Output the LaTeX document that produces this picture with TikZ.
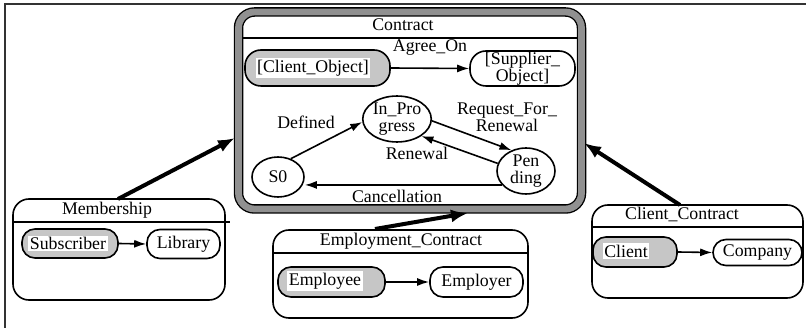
\documentclass[tikz,border=0pt]{standalone}
\usepackage{fontspec}
\setmainfont{Liberation Serif}
\usetikzlibrary{shapes.geometric,arrows.meta,calc}
\begin{document}
\begin{tikzpicture}[x=1pt,y=-1pt,
  txt/.style={font=\fontsize{17.8}{17}\selectfont, inner sep=0pt, align=center},
  box/.style={draw, line width=1.6pt, rounded corners=16pt, inner sep=0pt},
  st/.style={draw, line width=1.6pt, rounded corners=13pt, inner sep=0pt, font=\fontsize{17.8}{16.5}\selectfont, align=center},
  ststart/.style={st, fill=gray!45},
  lab/.style={fill=white, inner sep=1.5pt, font=\fontsize{17.8}{17}\selectfont},
  ell/.style={draw, ellipse, line width=1.6pt, inner sep=0pt, font=\fontsize{17.8}{17}\selectfont, align=center},
  arr/.style={line width=1.6pt, -{Latex[length=12pt,width=8pt]}},
  bigarr/.style={line width=4pt, -{Latex[length=17pt,width=13pt]}},
  divider/.style={line width=1.6pt}
]
\useasboundingbox (0,0) rectangle (806,328);
% outer frame
\draw[line width=2pt, black!80] (5,328) -- (5,4) -- (806,4);

% Contract
\node[draw, minimum width=343pt, minimum height=197pt, inner sep=0pt, outer sep=0pt, line width=9.5pt, rounded corners=16pt] (contract) at (410,110.5) {};
\draw[gray!55!black!60, line width=6.8pt, rounded corners=16pt] (contract.north west) rectangle (contract.south east);
\draw[divider] (243,38) -- (577,38);
\node[txt] (ctitle) at (403,25) {Contract};

\node[ststart, minimum width=145pt, minimum height=36pt, rounded corners=16pt] (co) at (317.5,68) {};
\node[lab] (colab) at (313,68) {[Client\_Object]};
\node[st, minimum width=105pt, minimum height=35pt, rounded corners=16pt] (sup) at (522.5,68.5) {[Supplier\_\\Object]};
\draw[arr] (co.east) -- (sup.west);
\node[txt] (agree) at (430,48) {Agree\_On};

\node[ell, minimum width=60pt, minimum height=42pt] (inprog) at (397,119) {In\_Pro\\gress};
\node[ell, minimum width=52pt, minimum height=40pt] (s0) at (278,177) {S0};
\node[ell, minimum width=58pt, minimum height=45pt] (pend) at (526,171) {Pen\\ding};

\draw[arr] (s0.55) -- (inprog.185);
\draw[arr] (inprog.-3) -- (pend.125);
\draw[arr] (pend.165) -- (inprog.-35);
\draw[arr] (pend.210) -- (s0.east |- pend.210);

\node[txt] (defined) at (306,122) {Defined};
\node[txt] (rfr) at (507,117) {Request\_For\_\\Renewal};
\node[txt] (renew) at (417,153) {Renewal};
\node[txt] (cancel) at (397,196) {Cancellation};

% Membership
\node[box, minimum width=212pt, minimum height=101pt] (mem) at (119,249.5) {};
\draw[divider] (13,222) -- (230,222);
\node[txt] (memt) at (107,210) {Membership};
\node[ststart, minimum width=96pt, minimum height=29pt] (sub) at (70,243.5) {};
\node[lab] (sublab) at (68,243.5) {Subscriber};
\node[st, minimum width=73pt, minimum height=29pt] (lib) at (183.5,244) {Library};
\draw[arr] (sub.east) -- (lib.west);

% Employment_Contract
\node[box, minimum width=255pt, minimum height=88pt] (emp) at (400.5,274) {};
\draw[divider] (273,253) -- (528,253);
\node[txt] (empt) at (401,241) {Employment\_Contract};
\node[ststart, minimum width=107pt, minimum height=30pt] (ee) at (331.5,282) {};
\node[lab] (eelab) at (325,281) {Employee};
\node[st, minimum width=93pt, minimum height=30pt] (er) at (476.5,282) {Employer};
\draw[arr] (ee.east) -- (er.west);

% Client_Contract
\node[box, minimum width=211pt, minimum height=93pt] (cc) at (697.5,251.5) {};
\draw[divider] (592,227) -- (803,227);
\node[txt] (cct) at (682,214) {Client\_Contract};
\node[ststart, minimum width=84pt, minimum height=30pt] (cl) at (635,252) {};
\node[lab] (cllab) at (626,251) {Client};
\node[st, minimum width=89pt, minimum height=26pt] (comp) at (757.5,252.5) {Company};
\draw[arr] (cl.east) -- (comp.west);

% thick arrows
\coordinate (memtop) at (118,199);
\coordinate (cleft) at (235,138);
\coordinate (emptop) at (375,229);
\coordinate (cbot) at (468,213);
\coordinate (cctop) at (680,205);
\coordinate (cright) at (584,143);
\draw[bigarr] (memtop) -- (cleft);
\draw[bigarr] (emptop) -- (cbot);
\draw[bigarr] (cctop) -- (cright);
\end{tikzpicture}
\end{document}
